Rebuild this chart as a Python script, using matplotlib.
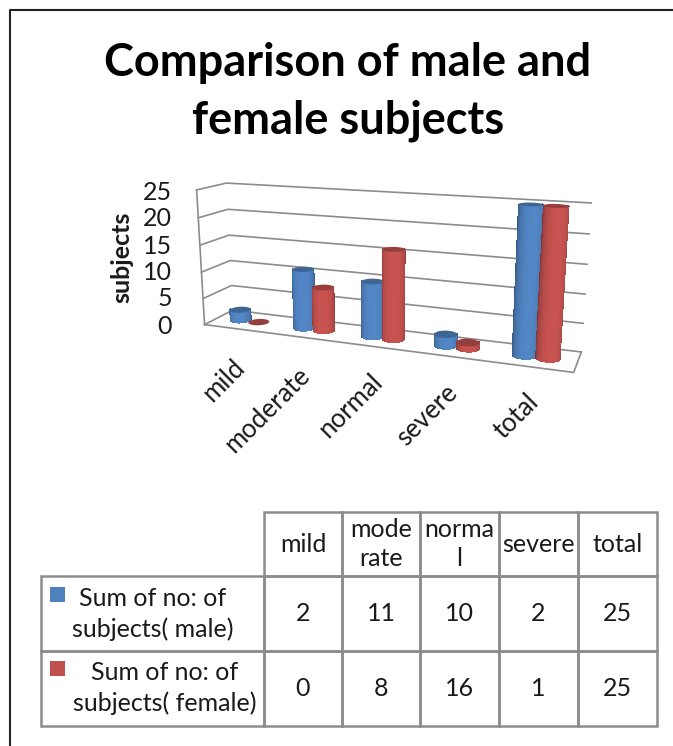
import numpy as np
import matplotlib
matplotlib.use("Agg")
import matplotlib.pyplot as plt
from matplotlib.colors import to_rgb
from matplotlib.patches import Rectangle
from mpl_toolkits.mplot3d.art3d import Poly3DCollection

plt.rcParams["font.family"] = ["Lato", "DejaVu Sans"]

# -------------------------
# Chart data
# -------------------------
categories = ["mild", "moderate", "normal", "severe", "total"]
male = [2, 11, 10, 2, 25]
female = [0, 8, 16, 1, 25]
z_ticks = [0, 5, 10, 15, 20, 25]

title_lines = ["Comparison of male and", "female subjects"]
table_header = ["mild", "mode\nrate", "norma\nl", "severe", "total"]
male_label = "Sum of no: of\nsubjects( male)"
female_label = "Sum of no: of\nsubjects( female)"

BLUE = "#4F81BD"
RED = "#C0504D"
GREY = "#8C8C8C"
TEXT = "#1A1A1A"

W, H = 673, 746
fig = plt.figure(figsize=(W / 100, H / 100), dpi=100, facecolor="white")

# -------------------------
# 3D chart
# -------------------------
ax = fig.add_axes([0.0616, 0.3834, 1.0, 0.50], projection="3d", computed_zorder=False)
ax.set_proj_type("persp", focal_length=0.38)
ax.view_init(elev=13.94, azim=-69.21)
box = (4.2, 0.6135, 1.5715)
ax.set_box_aspect(box, zoom=1.0923)
ax.set_xlim(-0.5, 4.5)
ax.set_ylim(0, 1)
ax.set_zlim(0, 25)
ax.set_axis_off()
ax.patch.set_alpha(0)

# gridlines on back and side wall, then the floor
for z in z_ticks:
    ax.plot([-0.5, -0.5, 4.5], [0, 1, 1], [z, z, z], color=GREY, lw=1.2, zorder=1, clip_on=False)
ax.plot([-0.5, -0.5], [0, 0], [0, 25], color=GREY, lw=1.2, zorder=1, clip_on=False)
ax.plot([-0.5, 4.5, 4.5], [0, 0, 1], [0, 0, 0], color=GREY, lw=1.2, zorder=1, clip_on=False)

sx = box[0] / 5.0
sy = box[1] / 1.0
radius = 0.145
ry = radius * sx / sy
cam = np.deg2rad(-69.21)


def cylinder(xc, height, color, zo):
    base = np.array(to_rgb(color))
    theta = np.linspace(cam - np.pi / 2 - 0.25, cam + np.pi / 2 + 0.25, 29)
    tt, hh = np.meshgrid(theta, np.array([0, height]))
    xx = xc + radius * np.cos(tt)
    yy = 0.5 + ry * np.sin(tt)
    light = np.clip(np.cos(tt - cam)[:-1, :-1], 0, 1)
    cols = np.ones(light.shape + (4,))
    cols[..., :3] = np.clip(base * (0.68 + 0.36 * light[..., None] ** 0.7), 0, 1)
    if height > 0:
        surf = ax.plot_surface(xx, yy, hh, facecolors=cols, shade=False, rstride=1, cstride=1,
                               linewidth=0, antialiased=False, zorder=zo)
        surf.set_clip_on(False)
    ang = np.linspace(0, 2 * np.pi, 40)
    top = list(zip(xc + radius * np.cos(ang), 0.5 + ry * np.sin(ang), np.full(40, height)))
    disc = Poly3DCollection([top], facecolor=base * 0.78, edgecolor="none", zorder=zo + 0.5)
    ax.add_collection3d(disc)
    disc.set_clip_on(False)


for i, name in enumerate(categories):
    cylinder(i - 0.145, male[i], BLUE, 10 + 2 * i)
    cylinder(i + 0.145, female[i], RED, 11 + 2 * i)

# -------------------------
# Overlay: title, axis text, table, frame (pixel coordinates)
# -------------------------
ov = fig.add_axes([0, 0, 1, 1], facecolor="none")
ov.set_xlim(0, W)
ov.set_ylim(H, 0)
ov.axis("off")

ov.plot([10, 10, W], [H, 10, 10], color="#222222", lw=1.5)

for line, y in zip(title_lines, [63, 121]):
    ov.text(348, y, line, ha="center", va="center", fontsize=32.5, fontweight="bold", color="black")

ov.text(122, 257, "subjects", rotation=90, ha="center", va="center", fontsize=18, fontweight="bold", color=TEXT)
for val, y in zip(z_ticks, [326, 299, 272, 246, 218, 192]):
    ov.text(172, y, str(val), ha="right", va="center", fontsize=18, color=TEXT)
for name, (x, y) in zip(categories, [(232, 355), (297, 363), (370, 369), (445, 380), (526, 389)]):
    ov.text(x, y, name, rotation=45, rotation_mode="anchor", ha="right", va="top", fontsize=18.5, color=TEXT)

cols_x = [264, 342, 420, 499, 578, 657]
rows_y = [512, 576, 651, 726]
left = 41
for x0, x1, head, a, b in zip(cols_x[:-1], cols_x[1:], table_header, male, female):
    xm = (x0 + x1) / 2
    for r in range(3):
        ov.add_patch(Rectangle((x0, rows_y[r]), x1 - x0, rows_y[r + 1] - rows_y[r], fc="none", ec=GREY, lw=1.8))
    ov.text(xm, (rows_y[0] + rows_y[1]) / 2, head, ha="center", va="center", fontsize=18, color=TEXT, linespacing=1.35)
    ov.text(xm, (rows_y[1] + rows_y[2]) / 2, str(a), ha="center", va="center", fontsize=18, color=TEXT)
    ov.text(xm, (rows_y[2] + rows_y[3]) / 2, str(b), ha="center", va="center", fontsize=18, color=TEXT)
ov.add_patch(Rectangle((left, rows_y[1]), cols_x[0] - left, rows_y[2] - rows_y[1], fc="none", ec=GREY, lw=1.8))
ov.add_patch(Rectangle((left, rows_y[2]), cols_x[0] - left, rows_y[3] - rows_y[2], fc="none", ec=GREY, lw=1.8))
ov.add_patch(Rectangle((50, 587), 15, 15, fc=BLUE, ec="none"))
ov.add_patch(Rectangle((50, 661), 15, 15, fc=RED, ec="none"))
ov.text(153, 614, male_label, ha="center", va="center", fontsize=18, color=TEXT, linespacing=1.35)
ov.text(165, 688, female_label, ha="center", va="center", fontsize=18, color=TEXT, linespacing=1.35)

fig.savefig("out.png", dpi=100)
